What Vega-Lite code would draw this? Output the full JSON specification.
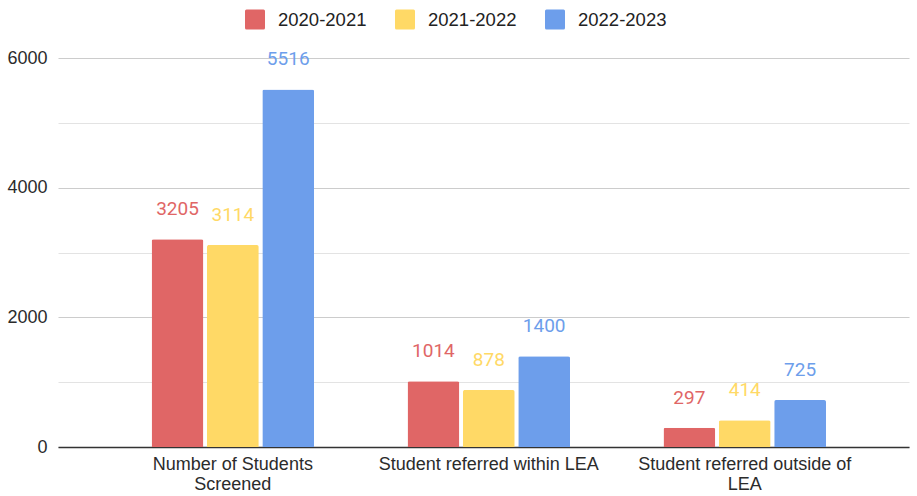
{
  "$schema": "https://vega.github.io/schema/vega-lite/v6.json",
  "width": 851,
  "height": 389,
  "autosize": "none",
  "padding": {"left": 58, "top": 58, "right": 8, "bottom": 49},
  "background": "white",
  "config": {"view": {"stroke": null}},
  "data": {
    "values": [
      {"category": "Number of Students Screened", "year": "2020-2021", "value": 3205},
      {"category": "Number of Students Screened", "year": "2021-2022", "value": 3114},
      {"category": "Number of Students Screened", "year": "2022-2023", "value": 5516},
      {"category": "Student referred within LEA", "year": "2020-2021", "value": 1014},
      {"category": "Student referred within LEA", "year": "2021-2022", "value": 878},
      {"category": "Student referred within LEA", "year": "2022-2023", "value": 1400},
      {"category": "Student referred outside of LEA", "year": "2020-2021", "value": 297},
      {"category": "Student referred outside of LEA", "year": "2021-2022", "value": 414},
      {"category": "Student referred outside of LEA", "year": "2022-2023", "value": 725}
    ]
  },
  "encoding": {
    "x": {
      "field": "category",
      "type": "nominal",
      "sort": null,
      "title": null,
      "scale": {"paddingInner": 0.365, "paddingOuter": 0.345, "align": 0.53},
      "axis": {
        "labelAngle": 0,
        "labelFont": "Liberation Sans",
        "labelFontSize": 18,
        "labelColor": "#2b2b2b",
        "labelPadding": 8,
        "labelLineHeight": 20,
        "labelLimit": 400,
        "ticks": false,
        "domainColor": "#333333",
        "domainWidth": 1.5,
        "labelExpr": "datum.value == 'Number of Students Screened' ? ['Number of Students', 'Screened'] : datum.value == 'Student referred outside of LEA' ? ['Student referred outside of', 'LEA'] : datum.value"
      }
    },
    "xOffset": {
      "field": "year",
      "type": "nominal",
      "scale": {"paddingInner": 0.064, "paddingOuter": 0}
    },
    "y": {
      "field": "value",
      "type": "quantitative",
      "title": null,
      "scale": {"domain": [0, 6000], "nice": false},
      "axis": {
        "values": [0, 1000, 2000, 3000, 4000, 5000, 6000],
        "labelExpr": "datum.value % 2000 == 0 ? datum.label : ''",
        "format": "d",
        "domain": false,
        "ticks": false,
        "labelPadding": 11,
        "labelFont": "Liberation Sans",
        "labelFontSize": 18,
        "labelColor": "#2b2b2b",
        "gridColor": {"condition": {"test": "datum.value % 2000 == 0", "value": "#cccccc"}, "value": "#e3e3e3"},
        "gridWidth": 1.2
      }
    },
    "color": {
      "field": "year",
      "type": "nominal",
      "scale": {"domain": ["2020-2021", "2021-2022", "2022-2023"], "range": ["#E06666", "#FFD966", "#6D9EEB"]},
      "legend": {
        "title": null,
        "orient": "none",
        "direction": "horizontal",
        "legendX": 187,
        "legendY": -48.5,
        "padding": 0,
        "symbolType": "M-0.85,-1 H0.85 Q1,-1 1,-0.85 V0.85 Q1,1 0.85,1 H-0.85 Q-1,1 -1,0.85 V-0.85 Q-1,-1 -0.85,-1 Z",
        "symbolSize": 400,
        "symbolStrokeWidth": 0,
        "symbolOpacity": 1,
        "labelOffset": 13,
        "columnPadding": 28,
        "labelFont": "Liberation Sans",
        "labelFontSize": 18.5,
        "labelColor": "#222222"
      }
    }
  },
  "layer": [
    {"mark": {"type": "bar", "cornerRadiusTopLeft": 2, "cornerRadiusTopRight": 2}},
    {
      "mark": {"type": "text", "dy": -30, "baseline": "middle", "align": "center", "font": "Roboto", "fontSize": 19},
      "encoding": {"text": {"field": "value", "type": "quantitative", "format": "d"}}
    }
  ]
}
